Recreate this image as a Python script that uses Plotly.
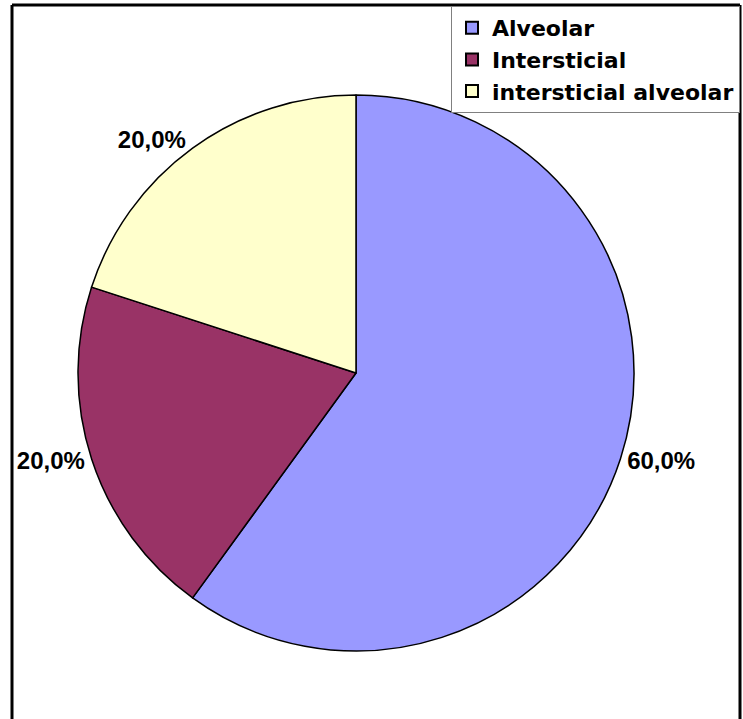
import plotly.graph_objects as go

categories = ["Alveolar", "Intersticial", "intersticial alveolar"]
values = [60, 20, 20]
value_labels = ["60,0%", "20,0%", "20,0%"]
colors = ["#9999FF", "#993366", "#FFFFCC"]

W, H = 743, 719

fig = go.Figure(go.Pie(
    labels=categories,
    values=values,
    text=value_labels,
    textinfo="text",
    textposition="outside",
    textfont=dict(family="Liberation Sans, Arial, sans-serif", size=24, color="black", weight="bold"),
    marker=dict(colors=colors, line=dict(color="black", width=1.5)),
    sort=False,
    direction="clockwise",
    rotation=0,
    domain=dict(x=[78 / W, 634 / W], y=[1 - 651 / H, 1 - 95 / H]),
    hoverinfo="skip",
))

shapes = [
    dict(type="line", xref="paper", yref="paper", x0=12 / W, x1=12 / W, y0=0, y1=1 - 5 / H,
         line=dict(color="black", width=3)),
    dict(type="line", xref="paper", yref="paper", x0=12 / W, x1=740 / W, y0=1 - 5 / H, y1=1 - 5 / H,
         line=dict(color="black", width=3)),
    dict(type="line", xref="paper", yref="paper", x0=740 / W, x1=740 / W, y0=0, y1=1 - 5 / H,
         line=dict(color="black", width=3)),
]

fig.update_layout(
    width=W, height=H,
    margin=dict(l=0, r=0, t=0, b=0),
    paper_bgcolor="white",
    plot_bgcolor="white",
    font=dict(family="Liberation Sans, Arial, sans-serif", color="black"),
    showlegend=True,
    legend=dict(
        x=740 / W, xanchor="right", y=1 - 6 / H, yanchor="top",
        bgcolor="white", bordercolor="#808080", borderwidth=1,
        font=dict(size=22, family="DejaVu Sans", weight="bold"),
        itemsizing="constant",
        entrywidth=270,
    ),
    shapes=shapes,
)

fig.write_html("out.html", config={"displayModeBar": False},
               post_script="document.body.style.margin='0';")
